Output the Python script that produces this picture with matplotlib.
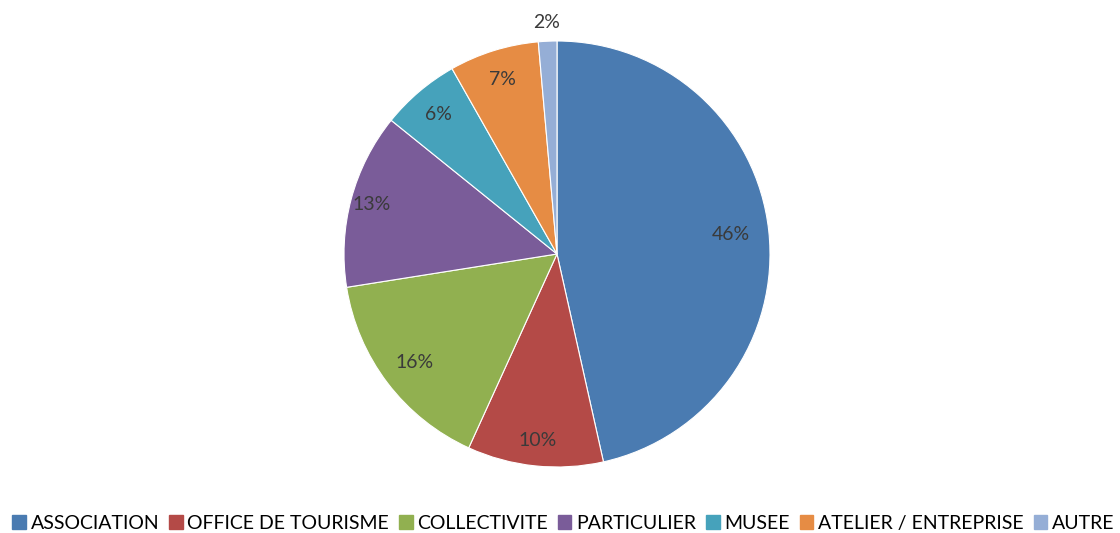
import numpy as np
import matplotlib.pyplot as plt

categories = ["ASSOCIATION", "OFFICE DE TOURISME", "COLLECTIVITE", "PARTICULIER",
              "MUSEE", "ATELIER / ENTREPRISE", "AUTRE"]
# slice shares as measured on the picture, and the labels it prints
shares = [46.5, 10.3, 15.7, 13.3, 6.0, 6.8, 1.4]
pct_labels = ["46%", "10%", "16%", "13%", "6%", "7%", "2%"]
colors = ["#4A7BB1", "#B44A47", "#91B050", "#7A5C99", "#46A2BB", "#E68C44", "#95AED6"]

plt.rcParams['font.family'] = ['Lato', 'DejaVu Sans']

fig = plt.figure(figsize=(11.2, 5.33), dpi=100)
ax = fig.add_axes([(557 - 213) / 1120, (533 - 467) / 533, 426 / 1120, 426 / 533])

wedges, texts = ax.pie(shares, colors=colors, startangle=90, counterclock=False,
                       wedgeprops=dict(edgecolor="white", linewidth=0.8))
ax.set_xlim(-1, 1)
ax.set_ylim(-1, 1)
ax.set_aspect("equal")

dists = [0.82, 0.88, 0.84, 0.9, 0.86, 0.86, 1.09]
for w, lab, d in zip(wedges, pct_labels, dists):
    ang = np.deg2rad((w.theta1 + w.theta2) / 2)
    ax.text(d * np.cos(ang), d * np.sin(ang), lab, ha="center", va="center",
            fontsize=14, color="#3a3a3a")

handles = [plt.Rectangle((0, 0), 1, 1, color=c) for c in colors]
fig.legend(handles, categories, loc="center", bbox_to_anchor=(0.503, 0.018), ncol=7,
           frameon=False, fontsize=14, handlelength=0.7, handleheight=0.7,
           handletextpad=0.25, columnspacing=0.5, borderpad=0)

fig.savefig("out.png")
